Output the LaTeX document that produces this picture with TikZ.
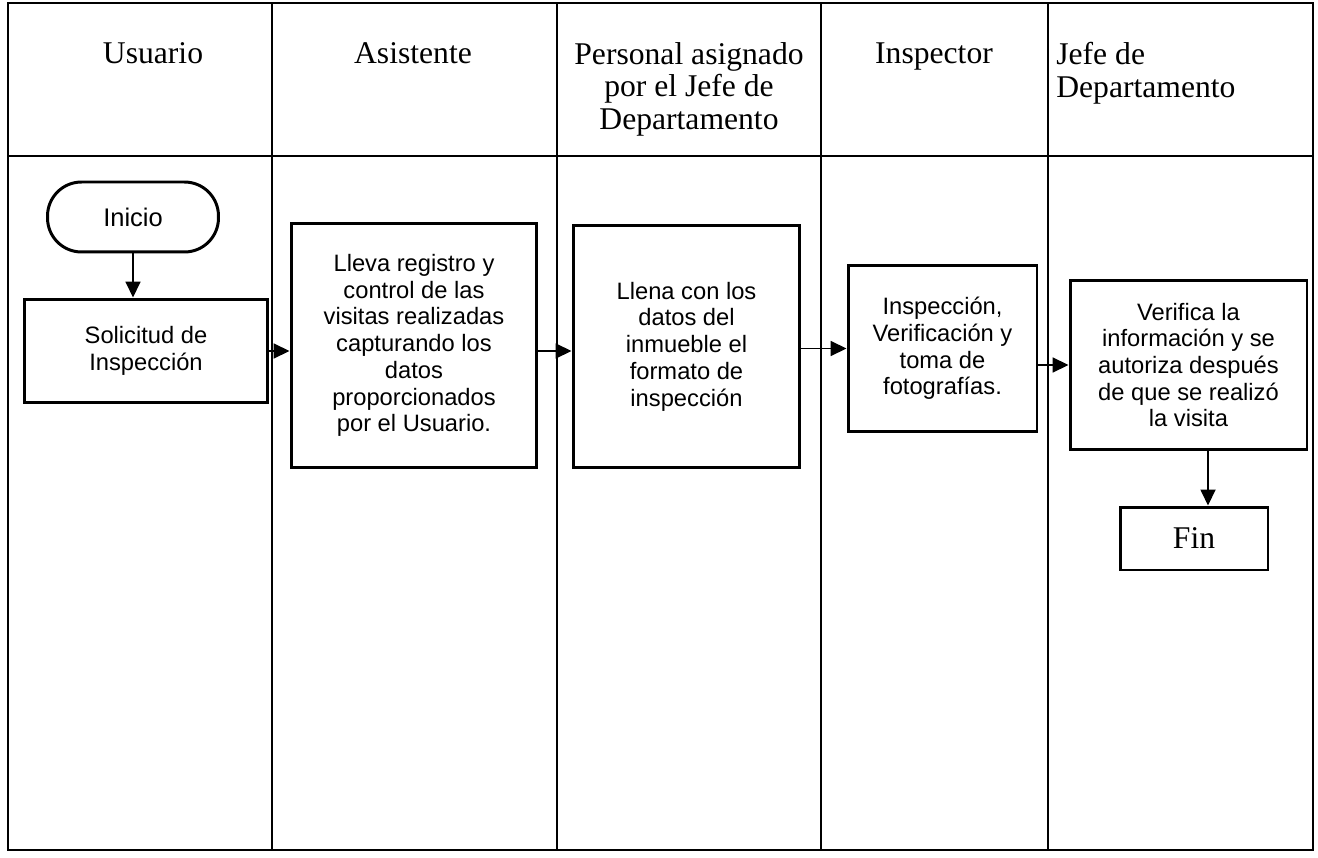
\documentclass[tikz,border=0pt]{standalone}
\usepackage{fontspec}
\setmainfont{Liberation Serif}
\setsansfont{Liberation Sans}
\usetikzlibrary{arrows.meta}
\tikzset{
  carril/.style={line width=1pt},
  caja/.style={draw,line width=1.7pt,align=center,inner sep=0pt,font=\sffamily\fontsize{13.5}{15.2}\selectfont},
  term/.style={caja,rounded corners=0.68cm,font=\sffamily\fontsize{14.5}{15}\selectfont},
  encab/.style={align=center,anchor=north,inner sep=0pt,font=\fontsize{18}{18.5}\selectfont},
  flecha/.style={line width=1pt,-{Triangle[length=3.2mm,width=3mm]}}
}

\begin{document}
\begin{tikzpicture}[x=0.02cm,y=-0.02cm]
\fill[white] (0,0) rectangle (1318,858);
% carriles
\draw[carril] (8,3) rectangle (1313,850); \draw[carril] (8,156) -- (1313,156);
\foreach \x in {272,557,821,1048} \draw[carril] (\x,3) -- (\x,850);
% encabezados
\node[encab] (hUsu) at (153,42) {Usuario};
\node[encab] (hAsis) at (413,42) {Asistente};
\node[encab] (hPers) at (689,42) {Personal asignado\\por el Jefe de\\Departamento};
\node[encab] (hInsp) at (934,42) {Inspector};
\node[encab,anchor=north west,align=left] (hJefe) at (1056,42) {Jefe de\\Departamento};
% actividades
\node[term,minimum width=3.42cm,minimum height=1.4cm] (inicio) at (133,217) {Inicio};
\node[caja,minimum width=4.88cm,minimum height=2.08cm] (solicitud) at (146,351) {Solicitud de\\Inspección};
\node[caja,minimum width=4.92cm,minimum height=4.9cm] (asistente) at (414,345.5) {Lleva registro y\\control de las\\visitas realizadas\\capturando los\\datos\\proporcionados\\por el Usuario.};
\node[caja,minimum width=4.54cm,minimum height=4.86cm] (personal) at (686.5,346.5) {Llena con los\\datos del\\inmueble el\\formato de\\inspección};
\node[caja,minimum width=3.78cm,minimum height=3.34cm] (inspector) at (942.5,348.5) {Inspección,\\Verificación y\\toma de\\fotografías.};
\node[caja,minimum width=4.74cm,minimum height=3.4cm] (jefe) at (1188.5,365) {Verifica la\\información y se\\autoriza después\\de que se realizó\\la visita};
\node[caja,font=\fontsize{18}{18}\selectfont,minimum width=2.96cm,minimum height=1.26cm] (fin) at (1194,538.5) {Fin};
\coordinate (bajada) at (1208,0);
% flujo
\draw[flecha] (inicio.south) -- (inicio.south |- solicitud.north);
\draw[flecha] (solicitud.east) -- (solicitud.east -| asistente.west);
\draw[flecha] (asistente.east |- solicitud.east) -- (personal.west |- solicitud.east);
\draw[flecha] (personal.east |- inspector.west) -- (inspector.west);
\draw[flecha] (inspector.east |- jefe.west) -- (jefe.west);
\draw[flecha] (jefe.south -| bajada) -- (fin.north -| bajada);
\end{tikzpicture}
\end{document}
